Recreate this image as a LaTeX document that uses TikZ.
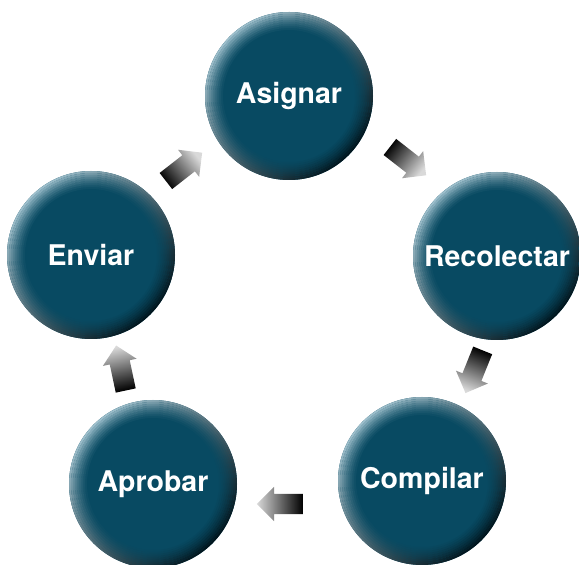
\documentclass[tikz,border=0pt]{standalone}
\usepackage{fontspec}
\setsansfont{TeX Gyre Heros}
\usetikzlibrary{shapes.arrows}
\definecolor{DeepTeal}{HTML}{084A62}
\definecolor{RimLight}{HTML}{9DBFCC}
\definecolor{RimDark}{HTML}{00141C}
\definecolor{Gray85}{gray}{0.85}

\begin{document}
\begin{tikzpicture}[
    x=1pt, y=1pt,
    % Styles for the stages
    stage/.style={
        circle,
        fill=DeepTeal,
        minimum size=168pt,
        inner sep=0pt,
        text=white,
        font=\sffamily\bfseries\fontsize{28.5}{32}\selectfont,
        path picture={
            % soft rim, light at top left and dark at bottom right
            \foreach \r/\o in {84/1, 82/0.85, 80/0.7, 78/0.56, 76/0.43, 74/0.32, 72/0.22, 70/0.13, 68/0.06} {
                \shade[even odd rule, opacity=\o, top color=RimLight,
                       middle color=DeepTeal, bottom color=RimDark, shading angle=45]
                    (path picture bounding box.center) circle (\r pt)
                    (path picture bounding box.center) circle (\r pt - 2pt);
            }
        }
    },
    % Block arrow between stages
    flow/.style={
        single arrow,
        draw=none,
        top color=Gray85,
        bottom color=black,
        minimum height=46pt,
        single arrow head extend=7pt,
        single arrow head indent=0pt,
        inner xsep=0pt,
        inner ysep=10pt
    }
]
    \useasboundingbox (0,0) rectangle (579,565);

    % --- Nodes ---
    \node[stage] (asignar)    at (289,469) {Asignar};
    \node[stage] (recolectar) at (497,309) {Recolectar};
    \node[stage] (compilar)   at (422,84)  {Compilar};
    \node[stage] (aprobar)    at (153,81)  {Aprobar};
    \node[stage] (enviar)     at (91,310)  {Enviar};

    % --- Arrows ---
    \node[flow, rotate=-38,  shading angle=-128] (asg2rec) at (404,407) {};
    \node[flow, rotate=-112, shading angle=-202] (rec2com) at (476,198) {};
    \node[flow, rotate=180,  shading angle=90]   (com2apr) at (285,61)  {};
    \node[flow, rotate=102,  shading angle=12]   (apr2env) at (122,192) {};
    \node[flow, rotate=38,   shading angle=-52]  (env2asg) at (180,395) {};

\end{tikzpicture}
\end{document}
